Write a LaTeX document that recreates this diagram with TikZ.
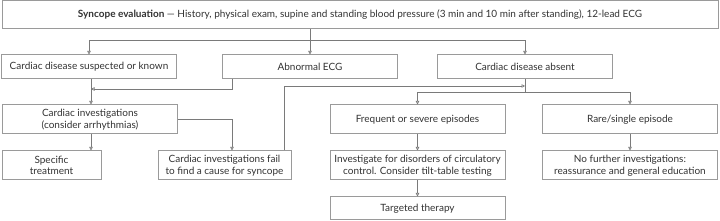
\documentclass[tikz,border=0pt]{standalone}
\usepackage{fontspec}
\setmainfont{Lato}
\usepackage{xcolor}
\usepackage{tikz}
\usetikzlibrary{arrows.meta}
\definecolor{boxline}{HTML}{9A9A9A}
\definecolor{wireline}{HTML}{7A7A7A}
\definecolor{textgrey}{HTML}{333333}

\begin{document}
\begin{tikzpicture}[x=1pt, y=-1pt,
          box/.style={rectangle, draw=boxline, fill=white, line width=1pt,
                      font=\fontsize{10}{11.5}\selectfont\color{textgrey}, align=center,
                      inner sep=0pt},
          widebox/.style={box, minimum width=175pt, minimum height=24pt},
          tallbox/.style={box, minimum width=175pt, minimum height=29pt},
          arr/.style={-{Triangle[open, length=3.5pt, width=3.5pt]}, line width=0.7pt, wireline},
          wire/.style={line width=0.7pt, wireline}
        ]
        \fill[white] (0,0) rectangle (720,221);
        \useasboundingbox (0,0) rectangle (720,221);

        \node[box, minimum width=716pt, minimum height=28pt] (top) at (360,15)
          {\textbf{Syncope evaluation} --- History, physical exam, supine and standing blood pressure (3 min and 10 min after standing), 12-lead ECG};

        \node[widebox] (susp)   at (89,67)   {Cardiac disease suspected or known};
        \node[widebox] (abn)    at (310,67)  {Abnormal ECG};
        \node[widebox] (absent) at (525,67)  {Cardiac disease absent};

        \node[tallbox] (inv)  at (90,119.5)  {Cardiac investigations\\(consider arrhythmias)};
        \node[box, minimum width=99pt, minimum height=29pt] (spec) at (51.5,165.5) {Specific\\treatment};
        \node[box, minimum width=133pt, minimum height=29pt] (fail) at (224.5,165.5)
          {Cardiac investigations fail\\to find a cause for syncope};

        \node[tallbox] (freq) at (417.5,119.5) {Frequent or severe episodes};
        \node[tallbox] (rare) at (630,119.5)   {Rare/single episode};
        \node[tallbox] (circ) at (417.5,165.5)
          {Investigate for disorders of circulatory\\control. Consider tilt-table testing};
        \node[box, minimum width=175pt, minimum height=23pt] (ther) at (417.5,208.5) {Targeted therapy};
        \node[tallbox] (nofur) at (630,165.5)
          {No further investigations:\\reassurance and general education};

        \coordinate (split) at (310,40);
        \coordinate (join) at (91,89);
        \coordinate (fork) at (525,92);

        % first split
        \draw[wire] (top.south -| abn.north) -- (split);
        \draw[arr] (split) -| (susp.north);
        \draw[arr] (split) -- (abn.north);
        \draw[arr] (split) -| (absent.north);

        % cardiac branch
        \draw[arr] (susp.south -| join) -- (inv.north -| join);
        \draw[arr] (abn.south -| 232,0) |- (join);
        \draw[arr] (inv.south -| join) -- (spec.north -| join);
        \draw[arr] (inv.east) -| (fail.north -| 232,0);
        \draw[arr] (fail.north -| 284,0) |- (absent.south |- 0,86);

        % no heart disease
        \draw[wire] (absent.south) -- (fork);
        \draw[arr] (fork) -| (freq.north);
        \draw[arr] (fork) -| (rare.north);
        \draw[arr] (freq) -- (circ);
        \draw[arr] (circ) -- (ther);
        \draw[arr] (rare) -- (nofur);
      \end{tikzpicture}
\end{document}
